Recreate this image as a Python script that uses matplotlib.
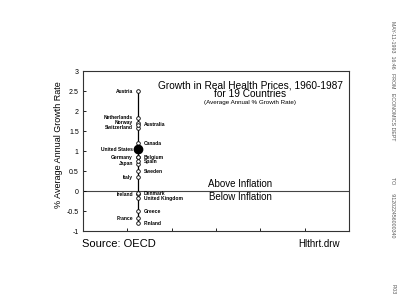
import matplotlib
matplotlib.use("Agg")
import matplotlib.pyplot as plt
from matplotlib.ticker import FormatStrFormatter

plt.rcParams['font.family'] = ['Liberation Sans', 'DejaVu Sans']
plt.rcParams['axes.unicode_minus'] = False

# growth rates (% per year above inflation)
left_countries = ["Austria", "Netherlands", "Norway", "Switzerland", "United States",
                  "Germany", "Japan", "Italy", "Ireland", "France"]
left_values = [2.5, 1.83, 1.71, 1.59, 1.05, 0.85, 0.68, 0.35, -0.08, -0.68]

right_countries = ["Australia", "Canada", "Belgium", "Spain", "Sweden",
                   "Denmark", "United Kingdom", "Greece", "Finland"]
right_values = [1.66, 1.2, 0.85, 0.75, 0.5, -0.05, -0.18, -0.5, -0.8]

us_value = 1.05
yticks = [-1, -0.5, 0, 0.5, 1, 1.5, 2, 2.5, 3]
xpos = 1.25

fig = plt.figure(figsize=(4, 3.05), dpi=100)
ax = fig.add_axes([0.2075, 0.2426, 0.665, 0.524])

all_vals = left_values + right_values
ax.plot([xpos, xpos], [min(all_vals), max(all_vals)], color='black', lw=0.9, zorder=2)
ax.plot([xpos] * len(all_vals), all_vals, 'o', ms=2.6, mfc='white', mec='black',
        mew=0.6, zorder=3)
ax.plot([xpos], [us_value], 'o', ms=6, color='black', zorder=4)
ax.axhline(0, color='#444444', lw=0.8, zorder=1)

for name, v in zip(left_countries, left_values):
    ax.annotate(name, (xpos, v), xytext=(-4, 0), textcoords='offset points',
                ha='right', va='center', fontsize=3.6, fontweight='bold')
for name, v in zip(right_countries, right_values):
    ax.annotate(name, (xpos, v), xytext=(4, 0), textcoords='offset points',
                ha='left', va='center', fontsize=3.6, fontweight='bold')

ax.text(0.628, 0.912, "Growth in Real Health Prices, 1960-1987", transform=ax.transAxes,
        ha='center', va='center', fontsize=7.3)
ax.text(0.628, 0.857, "for 19 Countries", transform=ax.transAxes,
        ha='center', va='center', fontsize=7.3)
ax.text(0.628, 0.803, "(Average Annual % Growth Rate)", transform=ax.transAxes,
        ha='center', va='center', fontsize=4.5)

ax.text(3.55, 0.17, "Above Inflation", ha='center', va='center', fontsize=7)
ax.text(3.55, -0.16, "Below Inflation", ha='center', va='center', fontsize=7)

ax.set_xlim(0, 6)
ax.set_ylim(-1, 3)
ax.set_xticks(range(0, 7))
ax.set_xticklabels([])
ax.set_yticks(yticks)
ax.yaxis.set_major_formatter(FormatStrFormatter('%g'))
ax.tick_params(direction='in', length=2, width=0.6, labelsize=5, pad=3)
for s in ax.spines.values():
    s.set_linewidth(0.8)
    s.set_color('#333333')

ax.set_ylabel("% Average Annual Growth Rate", fontsize=6.5)
ax.yaxis.set_label_coords(-0.075, 0.54)

fig.text(0.205, 0.2, "Source: OECD", fontsize=8, ha='left', va='center')
fig.text(0.85, 0.2, "Hlthrt.drw", fontsize=7, ha='right', va='center')

# fax header along the right edge
fig.text(0.982, 0.93, "MAY-11-1993  16:46   FROM   ECONOMICS DEPT", rotation=-90,
         ha='center', va='top', fontsize=3.8, color='#555555')
fig.text(0.982, 0.42, "TO      912022456000340", rotation=-90,
         ha='center', va='top', fontsize=3.8, color='#555555')
fig.text(0.982, 0.07, "P.03", rotation=-90,
         ha='center', va='top', fontsize=3.8, color='#555555')

fig.savefig("out.png", dpi=100)
